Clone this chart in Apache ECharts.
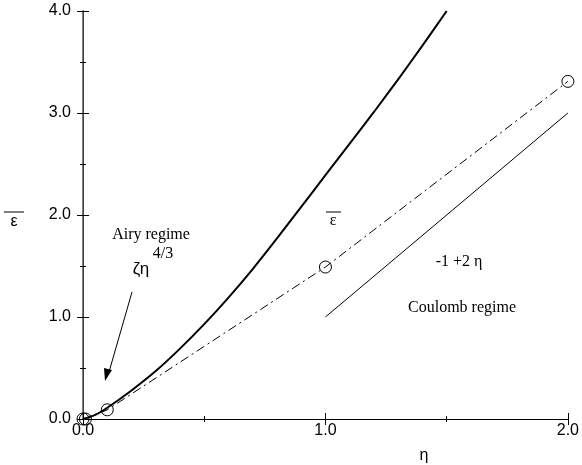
<!DOCTYPE html>
<html><head><meta charset="utf-8">
<script src="https://cdn.jsdelivr.net/npm/echarts@6/dist/echarts.min.js"></script>
<style>html,body{margin:0;padding:0;background:#fff}#c{width:582px;height:465px}</style>
</head><body><div id="c"></div>
<script>
// Data
const xTicks = [0, 1, 2];
const yTicks = [0, 1, 2, 3, 4];
const curveEta = [0, 0.05, 0.1, 0.2, 0.3, 0.4, 0.5, 0.6, 0.7, 0.8, 0.9, 1.0, 1.1, 1.2, 1.3, 1.4, 1.5];
const curveEps = [0, 0.04, 0.11, 0.28, 0.47, 0.69, 0.93, 1.19, 1.47, 1.77, 2.08, 2.39, 2.70, 3.01, 3.33, 3.66, 4.0];
const ptsEta = [0, 0.01, 0.1, 1.0, 2.0];
const ptsEps = [0, 0.0, 0.09, 1.49, 3.31];
const linEta = [1.0, 2.0];
const linEps = [1.0, 3.0];

const zip = (a, b) => a.map((v, i) => [v, b[i]]);
const chart = echarts.init(document.getElementById('c'));
const SERIF = '"Liberation Serif", "Times New Roman", serif';
const SANS = '"Liberation Sans", Arial, sans-serif';
const tickFmt = v => Number(v).toFixed(1);

const baseAxis = {
  axisLine: { show: true, lineStyle: { color: '#000', width: 1 } },
  axisTick: { show: true, inside: true, length: 6, lineStyle: { color: '#000' } },
  minorTick: { show: true, splitNumber: 2, length: 3, lineStyle: { color: '#000' } },
  splitLine: { show: false }
};

chart.setOption({
  animation: false,
  backgroundColor: '#fff',
  grid: { left: 83, right: 14, top: 11, bottom: 46 },
  xAxis: [
    Object.assign({}, baseAxis, {
      type: 'value', min: xTicks[0], max: xTicks[xTicks.length - 1], interval: 1, position: 'bottom',
      axisLabel: { formatter: tickFmt, color: '#000', fontFamily: SANS, fontSize: 16, margin: 4 }
    }),
    Object.assign({}, baseAxis, {
      type: 'value', min: 0, max: 2, interval: 1, position: 'top',
      axisLabel: { show: false }
    })
  ],
  yAxis: [
    Object.assign({}, baseAxis, {
      type: 'value', min: yTicks[0], max: yTicks[yTicks.length - 1], interval: 1, position: 'left',
      axisLabel: { formatter: tickFmt, color: '#000', fontFamily: SANS, fontSize: 16, margin: 12 }
    }),
    Object.assign({}, baseAxis, {
      type: 'value', min: 0, max: 4, interval: 1, position: 'right',
      axisLine: { show: true, lineStyle: { color: '#555', width: 1.5 } },
      axisLabel: { show: false }
    })
  ],
  series: [
    {
      type: 'line', data: zip(curveEta, curveEps), smooth: 0.2, symbol: 'none',
      lineStyle: { color: '#000', width: 2 }, z: 3
    },
    {
      type: 'line', data: zip(ptsEta, ptsEps), symbol: 'circle', symbolSize: 12, showSymbol: true,
      lineStyle: { color: '#000', width: 1, type: [9, 4, 2, 4] },
      itemStyle: { color: 'rgba(0,0,0,0)', borderColor: '#000', borderWidth: 1 }, z: 4
    },
    {
      type: 'line', data: zip(linEta, linEps), symbol: 'none',
      lineStyle: { color: '#000', width: 1 }
    }
  ],
  graphic: [
    // y-axis name: epsilon bar
    { type: 'line', shape: { x1: 4, y1: 212, x2: 24, y2: 212 }, style: { stroke: '#000', lineWidth: 1 } },
    { type: 'text', x: 14, y: 222, style: { text: 'ε', font: '16px ' + SANS, fill: '#000', align: 'center', verticalAlign: 'middle' } },
    // x-axis name
    { type: 'text', x: 424, y: 456, style: { text: 'η', font: '16px ' + SANS, fill: '#000', align: 'center', verticalAlign: 'middle' } },
    // epsilon bar label near curves
    { type: 'line', shape: { x1: 326, y1: 212, x2: 341, y2: 212 }, style: { stroke: '#000', lineWidth: 1 } },
    { type: 'text', x: 333, y: 221, style: { text: 'ε', font: '16px ' + SERIF, fill: '#000', align: 'center', verticalAlign: 'middle' } },
    // Airy regime annotation
    { type: 'text', x: 151, y: 235, style: { text: 'Airy regime', font: '16px ' + SERIF, fill: '#000', align: 'center', verticalAlign: 'middle' } },
    { type: 'text', x: 141, y: 269, style: { text: 'ζη', font: '17px ' + SANS, fill: '#000', align: 'center', verticalAlign: 'middle' } },
    { type: 'text', x: 163, y: 254, style: { text: '4/3', font: '16px ' + SERIF, fill: '#000', align: 'center', verticalAlign: 'middle' } },
    { type: 'line', shape: { x1: 132, y1: 292, x2: 109, y2: 372 }, style: { stroke: '#000', lineWidth: 1 } },
    { type: 'polygon', shape: { points: [[105, 381], [104, 368], [112, 370]] }, style: { fill: '#000' } },
    // Coulomb annotation
    { type: 'text', x: 459, y: 262, style: { text: '-1 +2 η', font: '16px ' + SERIF, fill: '#000', align: 'center', verticalAlign: 'middle' } },
    { type: 'text', x: 462, y: 308, style: { text: 'Coulomb regime', font: '16px ' + SERIF, fill: '#000', align: 'center', verticalAlign: 'middle' } }
  ]
});
</script></body></html>
